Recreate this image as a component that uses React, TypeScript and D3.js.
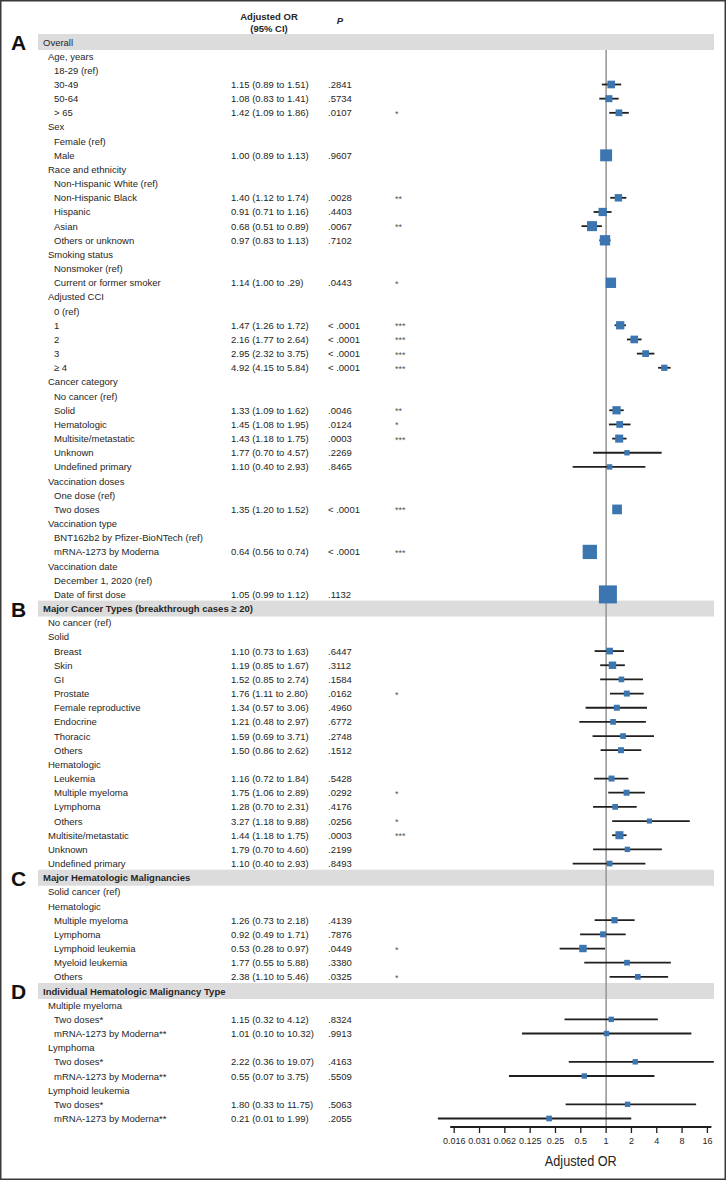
import React from "react";
import * as d3 from "d3";

// Row structure: S = section band, G = group heading, I = reference item, E = item with estimate, H = group with estimate
const rowSpec: string[] = [
  "S|Overall",
  "G|Age, years",
  "I|18-29 (ref)",
  "E|30-49",
  "E|50-64",
  "E|> 65",
  "G|Sex",
  "I|Female (ref)",
  "E|Male",
  "G|Race and ethnicity",
  "I|Non-Hispanic White (ref)",
  "E|Non-Hispanic Black",
  "E|Hispanic",
  "E|Asian",
  "E|Others or unknown",
  "G|Smoking status",
  "I|Nonsmoker (ref)",
  "E|Current or former smoker",
  "G|Adjusted CCI",
  "I|0 (ref)",
  "E|1",
  "E|2",
  "E|3",
  "E|\u2265 4",
  "G|Cancer category",
  "I|No cancer (ref)",
  "E|Solid",
  "E|Hematologic",
  "E|Multisite/metastatic",
  "E|Unknown",
  "E|Undefined primary",
  "G|Vaccination doses",
  "I|One dose (ref)",
  "E|Two doses",
  "G|Vaccination type",
  "I|BNT162b2 by Pfizer-BioNTech (ref)",
  "E|mRNA-1273 by Moderna",
  "G|Vaccination date",
  "I|December 1, 2020 (ref)",
  "E|Date of first dose",
  "S|Major Cancer Types (breakthrough cases \u2265 20)",
  "G|No cancer (ref)",
  "G|Solid",
  "E|Breast",
  "E|Skin",
  "E|GI",
  "E|Prostate",
  "E|Female reproductive",
  "E|Endocrine",
  "E|Thoracic",
  "E|Others",
  "G|Hematologic",
  "E|Leukemia",
  "E|Multiple myeloma",
  "E|Lymphoma",
  "E|Others",
  "H|Multisite/metastatic",
  "H|Unknown",
  "H|Undefined primary",
  "S|Major Hematologic Malignancies",
  "G|Solid cancer (ref)",
  "G|Hematologic",
  "E|Multiple myeloma",
  "E|Lymphoma",
  "E|Lymphoid leukemia",
  "E|Myeloid leukemia",
  "E|Others",
  "S|Individual Hematologic Malignancy Type",
  "G|Multiple myeloma",
  "E|Two doses*",
  "E|mRNA-1273 by Moderna**",
  "G|Lymphoma",
  "E|Two doses*",
  "E|mRNA-1273 by Moderna**",
  "G|Lymphoid leukemia",
  "E|Two doses*",
  "E|mRNA-1273 by Moderna**",
];

const sectionLetters = ["A", "B", "C", "D"];

// Estimates in order of E/H rows
const orValues = [
  1.15, 1.08, 1.42, 1.0, 1.4, 0.91, 0.68, 0.97, 1.14, 1.47, 2.16, 2.95, 4.92, 1.33, 1.45, 1.43, 1.77, 1.1, 1.35, 0.64, 1.05,
  1.1, 1.19, 1.52, 1.76, 1.34, 1.21, 1.59, 1.5, 1.16, 1.75, 1.28, 3.27, 1.44, 1.79, 1.1,
  1.26, 0.92, 0.53, 1.77, 2.38,
  1.15, 1.01, 2.22, 0.55, 1.8, 0.21,
];
const ciLower = [
  0.89, 0.83, 1.09, 0.89, 1.12, 0.71, 0.51, 0.83, 1.0, 1.26, 1.77, 2.32, 4.15, 1.09, 1.08, 1.18, 0.7, 0.4, 1.2, 0.56, 0.99,
  0.73, 0.85, 0.85, 1.11, 0.57, 0.48, 0.69, 0.86, 0.72, 1.06, 0.7, 1.18, 1.18, 0.7, 0.4,
  0.73, 0.49, 0.28, 0.55, 1.1,
  0.32, 0.1, 0.36, 0.07, 0.33, 0.01,
];
const ciUpper = [
  1.51, 1.41, 1.86, 1.13, 1.74, 1.16, 0.89, 1.13, 1.29, 1.72, 2.64, 3.75, 5.84, 1.62, 1.95, 1.75, 4.57, 2.93, 1.52, 0.74, 1.12,
  1.63, 1.67, 2.74, 2.8, 3.06, 2.97, 3.71, 2.62, 1.84, 2.89, 2.31, 9.88, 1.75, 4.6, 2.93,
  2.18, 1.71, 0.97, 5.88, 5.46,
  4.12, 10.32, 19.07, 3.75, 11.75, 1.99,
];
const ciText = [
  "1.15 (0.89 to 1.51)", "1.08 (0.83 to 1.41)", "1.42 (1.09 to 1.86)", "1.00 (0.89 to 1.13)",
  "1.40 (1.12 to 1.74)", "0.91 (0.71 to 1.16)", "0.68 (0.51 to 0.89)", "0.97 (0.83 to 1.13)",
  "1.14 (1.00 to .29)", "1.47 (1.26 to 1.72)", "2.16 (1.77 to 2.64)", "2.95 (2.32 to 3.75)",
  "4.92 (4.15 to 5.84)", "1.33 (1.09 to 1.62)", "1.45 (1.08 to 1.95)", "1.43 (1.18 to 1.75)",
  "1.77 (0.70 to 4.57)", "1.10 (0.40 to 2.93)", "1.35 (1.20 to 1.52)", "0.64 (0.56 to 0.74)",
  "1.05 (0.99 to 1.12)",
  "1.10 (0.73 to 1.63)", "1.19 (0.85 to 1.67)", "1.52 (0.85 to 2.74)", "1.76 (1.11 to 2.80)",
  "1.34 (0.57 to 3.06)", "1.21 (0.48 to 2.97)", "1.59 (0.69 to 3.71)", "1.50 (0.86 to 2.62)",
  "1.16 (0.72 to 1.84)", "1.75 (1.06 to 2.89)", "1.28 (0.70 to 2.31)", "3.27 (1.18 to 9.88)",
  "1.44 (1.18 to 1.75)", "1.79 (0.70 to 4.60)", "1.10 (0.40 to 2.93)",
  "1.26 (0.73 to 2.18)", "0.92 (0.49 to 1.71)", "0.53 (0.28 to 0.97)", "1.77 (0.55 to 5.88)",
  "2.38 (1.10 to 5.46)",
  "1.15 (0.32 to 4.12)", "1.01 (0.10 to 10.32)", "2.22 (0.36 to 19.07)", "0.55 (0.07 to 3.75)",
  "1.80 (0.33 to 11.75)", "0.21 (0.01 to 1.99)",
];
const pText = [
  ".2841", ".5734", ".0107", ".9607", ".0028", ".4403", ".0067", ".7102", ".0443",
  "< .0001", "< .0001", "< .0001", "< .0001", ".0046", ".0124", ".0003", ".2269", ".8465",
  "< .0001", "< .0001", ".1132",
  ".6447", ".3112", ".1584", ".0162", ".4960", ".6772", ".2748", ".1512", ".5428", ".0292",
  ".4176", ".0256", ".0003", ".2199", ".8493",
  ".4139", ".7876", ".0449", ".3380", ".0325",
  ".8324", ".9913", ".4163", ".5509", ".5063", ".2055",
];
const stars = [
  "", "", "*", "", "**", "", "**", "", "*", "***", "***", "***", "***", "**", "*", "***", "", "", "***", "***", "",
  "", "", "", "*", "", "", "", "", "", "*", "", "*", "***", "", "",
  "", "", "*", "", "*",
  "", "", "", "", "", "",
];
// relative weight of each estimate
const weights = [
  18, 15, 14, 44, 17, 21, 31, 33, 33, 21, 18, 14, 12, 21, 14, 20, 9, 9, 29, 63, 100,
  14, 17, 10, 11, 11, 10, 10, 11, 11, 11, 10, 8, 20, 9, 10,
  12, 11, 17, 10, 10,
  9, 9, 9, 9, 9, 10,
];

const tickValues = [1 / 64, 1 / 32, 1 / 16, 1 / 8, 1 / 4, 1 / 2, 1, 2, 4, 8, 16];
const tickLabels = ["0.016", "0.031", "0.062", "0.125", "0.25", "0.5", "1", "2", "4", "8", "16"];

const FONT = "'Liberation Sans', Arial, Helvetica, sans-serif";
const TEXT = "#262626";
const MARK = "#3b76b0";

export default function App() {
  const W = 726;
  const H = 1180;
  const x = d3.scaleLog().base(2).domain([1 / 64, 16]).range([454.2, 707.4]);
  const y = d3.scaleLinear().domain([0, rowSpec.length - 1]).range([42, 1118.5]);
  const size = d3.scaleSqrt().domain([0, 100]).range([0, 18]);
  const axisY = 1127;

  let est = -1;
  let sec = -1;
  const rows = rowSpec.map((s, i) => {
    const [kind, label] = s.split("|");
    const hasEst = kind === "E" || kind === "H";
    if (hasEst) est += 1;
    if (kind === "S") sec += 1;
    return { i, kind, label, e: hasEst ? est : -1, sec };
  });

  return (
    <svg
      width={W}
      height={H}
      style={{ position: "absolute", left: 0, top: 0, background: "#fff" }}
      fontFamily={FONT}
    >
      <rect x={0} y={0} width={W} height={H} fill="#fff" />
      <rect x={0.75} y={0.75} width={W - 1.5} height={H - 1.5} fill="none" stroke="#3a3a3a" strokeWidth={1.5} />

      {/* Column headers */}
      <text x={269} y={16} textAnchor="middle" dominantBaseline="central" fontSize={9.5} fontWeight="bold" fill={TEXT}>
        Adjusted OR
      </text>
      <text x={269} y={28.5} textAnchor="middle" dominantBaseline="central" fontSize={9.5} fontWeight="bold" fill={TEXT}>
        (95% CI)
      </text>
      <text x={340} y={20} textAnchor="middle" dominantBaseline="central" fontSize={9.5} fontWeight="bold" fontStyle="italic" fill={TEXT}>
        P
      </text>

      {/* Section bands */}
      {rows
        .filter((r) => r.kind === "S")
        .map((r) => (
          <g key={"s" + r.i}>
            <rect x={38} y={y(r.i) - 8} width={676} height={16} fill="#dcdcdc" />
            <text x={11} y={y(r.i) + 0.5} dominantBaseline="central" fontSize={21} fontWeight="bold" fill="#111">
              {sectionLetters[r.sec]}
            </text>
            <text
              x={43}
              y={y(r.i)}
              dominantBaseline="central"
              fontSize={9.5}
              fontWeight={r.sec === 0 ? "normal" : "bold"}
              fill={TEXT}
            >
              {r.label}
            </text>
          </g>
        ))}

      {/* Reference line */}
      <line x1={x(1)} x2={x(1)} y1={50} y2={axisY} stroke="#9a9a9a" strokeWidth={1.6} />

      {/* Row labels and table columns */}
      {rows
        .filter((r) => r.kind !== "S")
        .map((r) => (
          <g key={"r" + r.i}>
            <text
              x={r.kind === "G" || r.kind === "H" ? 48 : 54}
              y={y(r.i)}
              dominantBaseline="central"
              fontSize={9.5}
              fill={TEXT}
            >
              {r.label}
            </text>
            {r.e >= 0 && (
              <>
                <text x={231} y={y(r.i)} dominantBaseline="central" fontSize={9.5} fill={TEXT}>
                  {ciText[r.e]}
                </text>
                <text x={328} y={y(r.i)} dominantBaseline="central" fontSize={9.5} fill={TEXT}>
                  {pText[r.e]}
                </text>
                {stars[r.e] && (
                  <text x={395} y={y(r.i) + 1} dominantBaseline="central" fontSize={9} fill="#555">
                    {stars[r.e]}
                  </text>
                )}
              </>
            )}
          </g>
        ))}

      {/* CI lines and markers */}
      {rows
        .filter((r) => r.e >= 0)
        .map((r) => {
          const s = size(weights[r.e]);
          const cy = y(r.i);
          return (
            <g key={"m" + r.i}>
              <line
                x1={x(ciLower[r.e])}
                x2={x(ciUpper[r.e])}
                y1={cy}
                y2={cy}
                stroke="#1f1f1f"
                strokeWidth={1.8}
              />
              <rect x={x(orValues[r.e]) - s / 2} y={cy - s / 2} width={s} height={s} fill={MARK} />
            </g>
          );
        })}

      {/* Axis */}
      <line x1={x(1 / 64) - 4} x2={x(16) + 4} y1={axisY} y2={axisY} stroke="#1f1f1f" strokeWidth={1.8} />
      {tickValues.map((v, k) => (
        <g key={"t" + k}>
          <line x1={x(v)} x2={x(v)} y1={axisY} y2={axisY + 6} stroke="#1f1f1f" strokeWidth={1.3} />
          <text x={x(v)} y={axisY + 14} textAnchor="middle" dominantBaseline="central" fontSize={9} fill={TEXT}>
            {tickLabels[k]}
          </text>
        </g>
      ))}
      <text
        x={(x(1 / 64) + x(16)) / 2}
        y={1160}
        textAnchor="middle"
        dominantBaseline="central"
        fontSize={15}
        fill={TEXT}
        textLength={72}
        lengthAdjust="spacingAndGlyphs"
      >
        Adjusted OR
      </text>
    </svg>
  );
}
